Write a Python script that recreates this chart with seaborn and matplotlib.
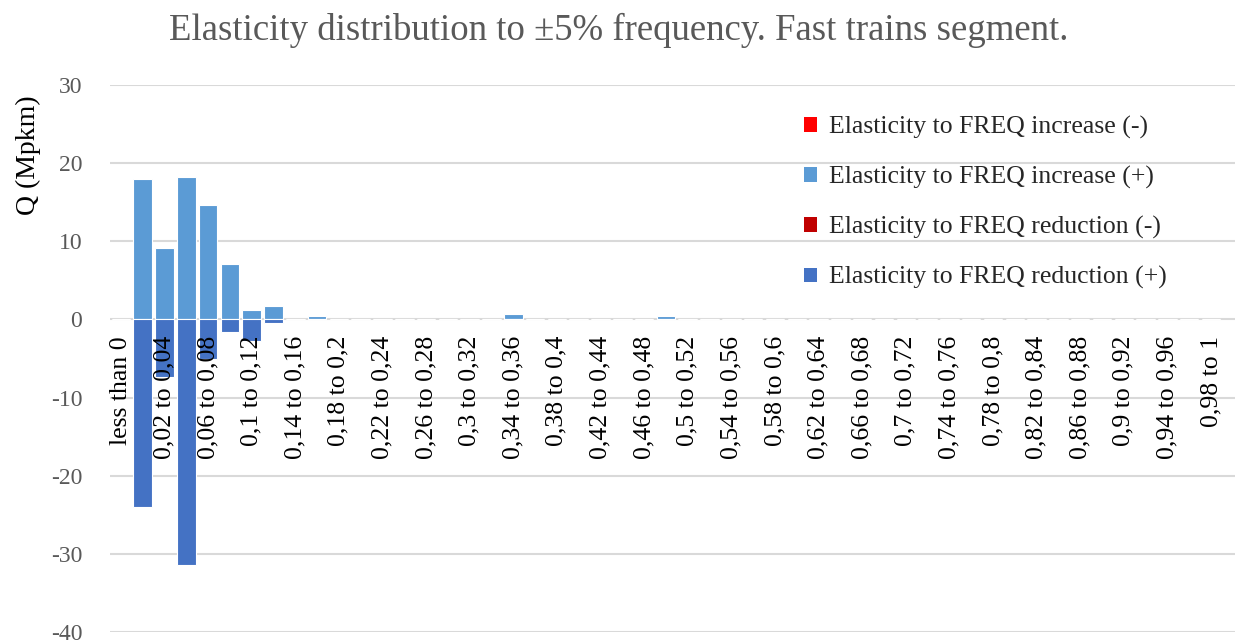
import matplotlib
matplotlib.use("Agg")
import matplotlib.pyplot as plt
import seaborn as sns
import pandas as pd
from matplotlib.patches import Patch

categories = [
    "less than 0", "0 to 0,02", "0,02 to 0,04", "0,04 to 0,06", "0,06 to 0,08",
    "0,08 to 0,1", "0,1 to 0,12", "0,12 to 0,14", "0,14 to 0,16", "0,16 to 0,18",
    "0,18 to 0,2", "0,2 to 0,22", "0,22 to 0,24", "0,24 to 0,26", "0,26 to 0,28",
    "0,28 to 0,3", "0,3 to 0,32", "0,32 to 0,34", "0,34 to 0,36", "0,36 to 0,38",
    "0,38 to 0,4", "0,4 to 0,42", "0,42 to 0,44", "0,44 to 0,46", "0,46 to 0,48",
    "0,48 to 0,5", "0,5 to 0,52", "0,52 to 0,54", "0,54 to 0,56", "0,56 to 0,58",
    "0,58 to 0,6", "0,6 to 0,62", "0,62 to 0,64", "0,64 to 0,66", "0,66 to 0,68",
    "0,68 to 0,7", "0,7 to 0,72", "0,72 to 0,74", "0,74 to 0,76", "0,76 to 0,78",
    "0,78 to 0,8", "0,8 to 0,82", "0,82 to 0,84", "0,84 to 0,86", "0,86 to 0,88",
    "0,88 to 0,9", "0,9 to 0,92", "0,92 to 0,94", "0,94 to 0,96", "0,96 to 0,98",
    "0,98 to 1",
]

inc_neg = [0.0] * 51
inc_pos = [0.0, 18.0, 9.2, 18.2, 14.6, 7.1, 1.25, 1.75, 0.0, 0.45,
           0.0, 0.0, 0.0, 0.0, 0.0, 0.0, 0.0, 0.0, 0.65, 0.0,
           0.0, 0.0, 0.0, 0.0, 0.0, 0.5, 0.0, 0.0, 0.0, 0.0,
           0.0, 0.0, 0.0, 0.0, 0.0, 0.0, 0.0, 0.0, 0.0, 0.0,
           0.0, 0.0, 0.0, 0.0, 0.0, 0.0, 0.0, 0.0, 0.0, 0.0,
           0.0]
red_neg = [0.0] * 51
red_pos = [0.0, -24.05, -7.4, -31.4, -5.0, -1.56, -2.75, -0.4, 0.0, 0.0,
           0.0, 0.0, 0.0, 0.0, 0.0, 0.0, 0.0, 0.0, 0.0, 0.0,
           0.0, 0.0, 0.0, 0.0, 0.0, 0.0, 0.0, 0.0, 0.0, 0.0,
           0.0, 0.0, 0.0, 0.0, 0.0, 0.0, 0.0, 0.0, 0.0, 0.0,
           0.0, 0.0, 0.0, 0.0, 0.0, 0.0, 0.0, 0.0, 0.0, 0.0,
           0.0]

series_names = [
    "Elasticity to FREQ increase (-)",
    "Elasticity to FREQ increase (+)",
    "Elasticity to FREQ reduction (-)",
    "Elasticity to FREQ reduction (+)",
]
series_colors = ["#FF0000", "#5B9BD5", "#C00000", "#4472C4"]
y_ticks = [30, 20, 10, 0, -10, -20, -30, -40]

sns.set_theme(style="white")
plt.rcParams["font.family"] = ["Liberation Serif", "DejaVu Serif"]

fig = plt.figure(figsize=(12.37, 6.44), dpi=100)
ax = fig.add_axes([110 / 1237, 12 / 644, (1235 - 110) / 1237, (632 - 85) / 644])

df = pd.DataFrame({"cat": categories, "inc_neg": inc_neg, "inc_pos": inc_pos,
                   "red_neg": red_neg, "red_pos": red_pos})

for col, colr, lw in zip(["inc_neg", "inc_pos", "red_neg", "red_pos"], series_colors,
                         [0, 0.8, 0, 0.8]):
    sns.barplot(data=df, x="cat", y=col, order=categories, color=colr, width=0.85,
                edgecolor="white", linewidth=lw, saturation=1, ax=ax, zorder=3)

ax.set_ylim(-40, 30)
ax.set_xlim(-0.5, 51.1)
ax.set_yticks(y_ticks)
ax.set_yticklabels([str(v) for v in y_ticks], color="#595959", fontsize=17)
ax.yaxis.grid(True, color="#D9D9D9", linewidth=1.5)
ax.set_axisbelow(True)
for s in ax.spines.values():
    s.set_visible(False)
ax.spines["bottom"].set_position(("data", 0))

ax.set_xticks(range(len(categories)))
ax.set_xticklabels([c if i % 2 == 0 else "" for i, c in enumerate(categories)],
                   rotation=90, fontsize=18.5, color="#000000")
ax.tick_params(axis="x", length=0, pad=12)
ax.tick_params(axis="y", length=0, pad=20)
ax.xaxis.set_zorder(10)
ax.set_xlabel("")
ax.set_ylabel("")

fig.text(28 / 1237, 1 - 155 / 644, "Q (Mpkm)", rotation=90, fontsize=20,
         color="#000000", ha="center", va="center")
fig.text(0.5, 1 - 30 / 644, "Elasticity distribution to \u00b15% frequency. Fast trains segment.",
         fontsize=26.5, color="#595959", ha="center", va="center")

handles = [Patch(facecolor=c, edgecolor="none") for c in series_colors]
leg = ax.legend(handles, series_names, loc="upper left",
                bbox_to_anchor=(781 / 1237, 1 - 93 / 644), bbox_transform=fig.transFigure,
                frameon=False, fontsize=18.5, handlelength=0.5, handleheight=0.5,
                handletextpad=0.45, labelspacing=1.05)

fig.savefig("out.png", dpi=100)
